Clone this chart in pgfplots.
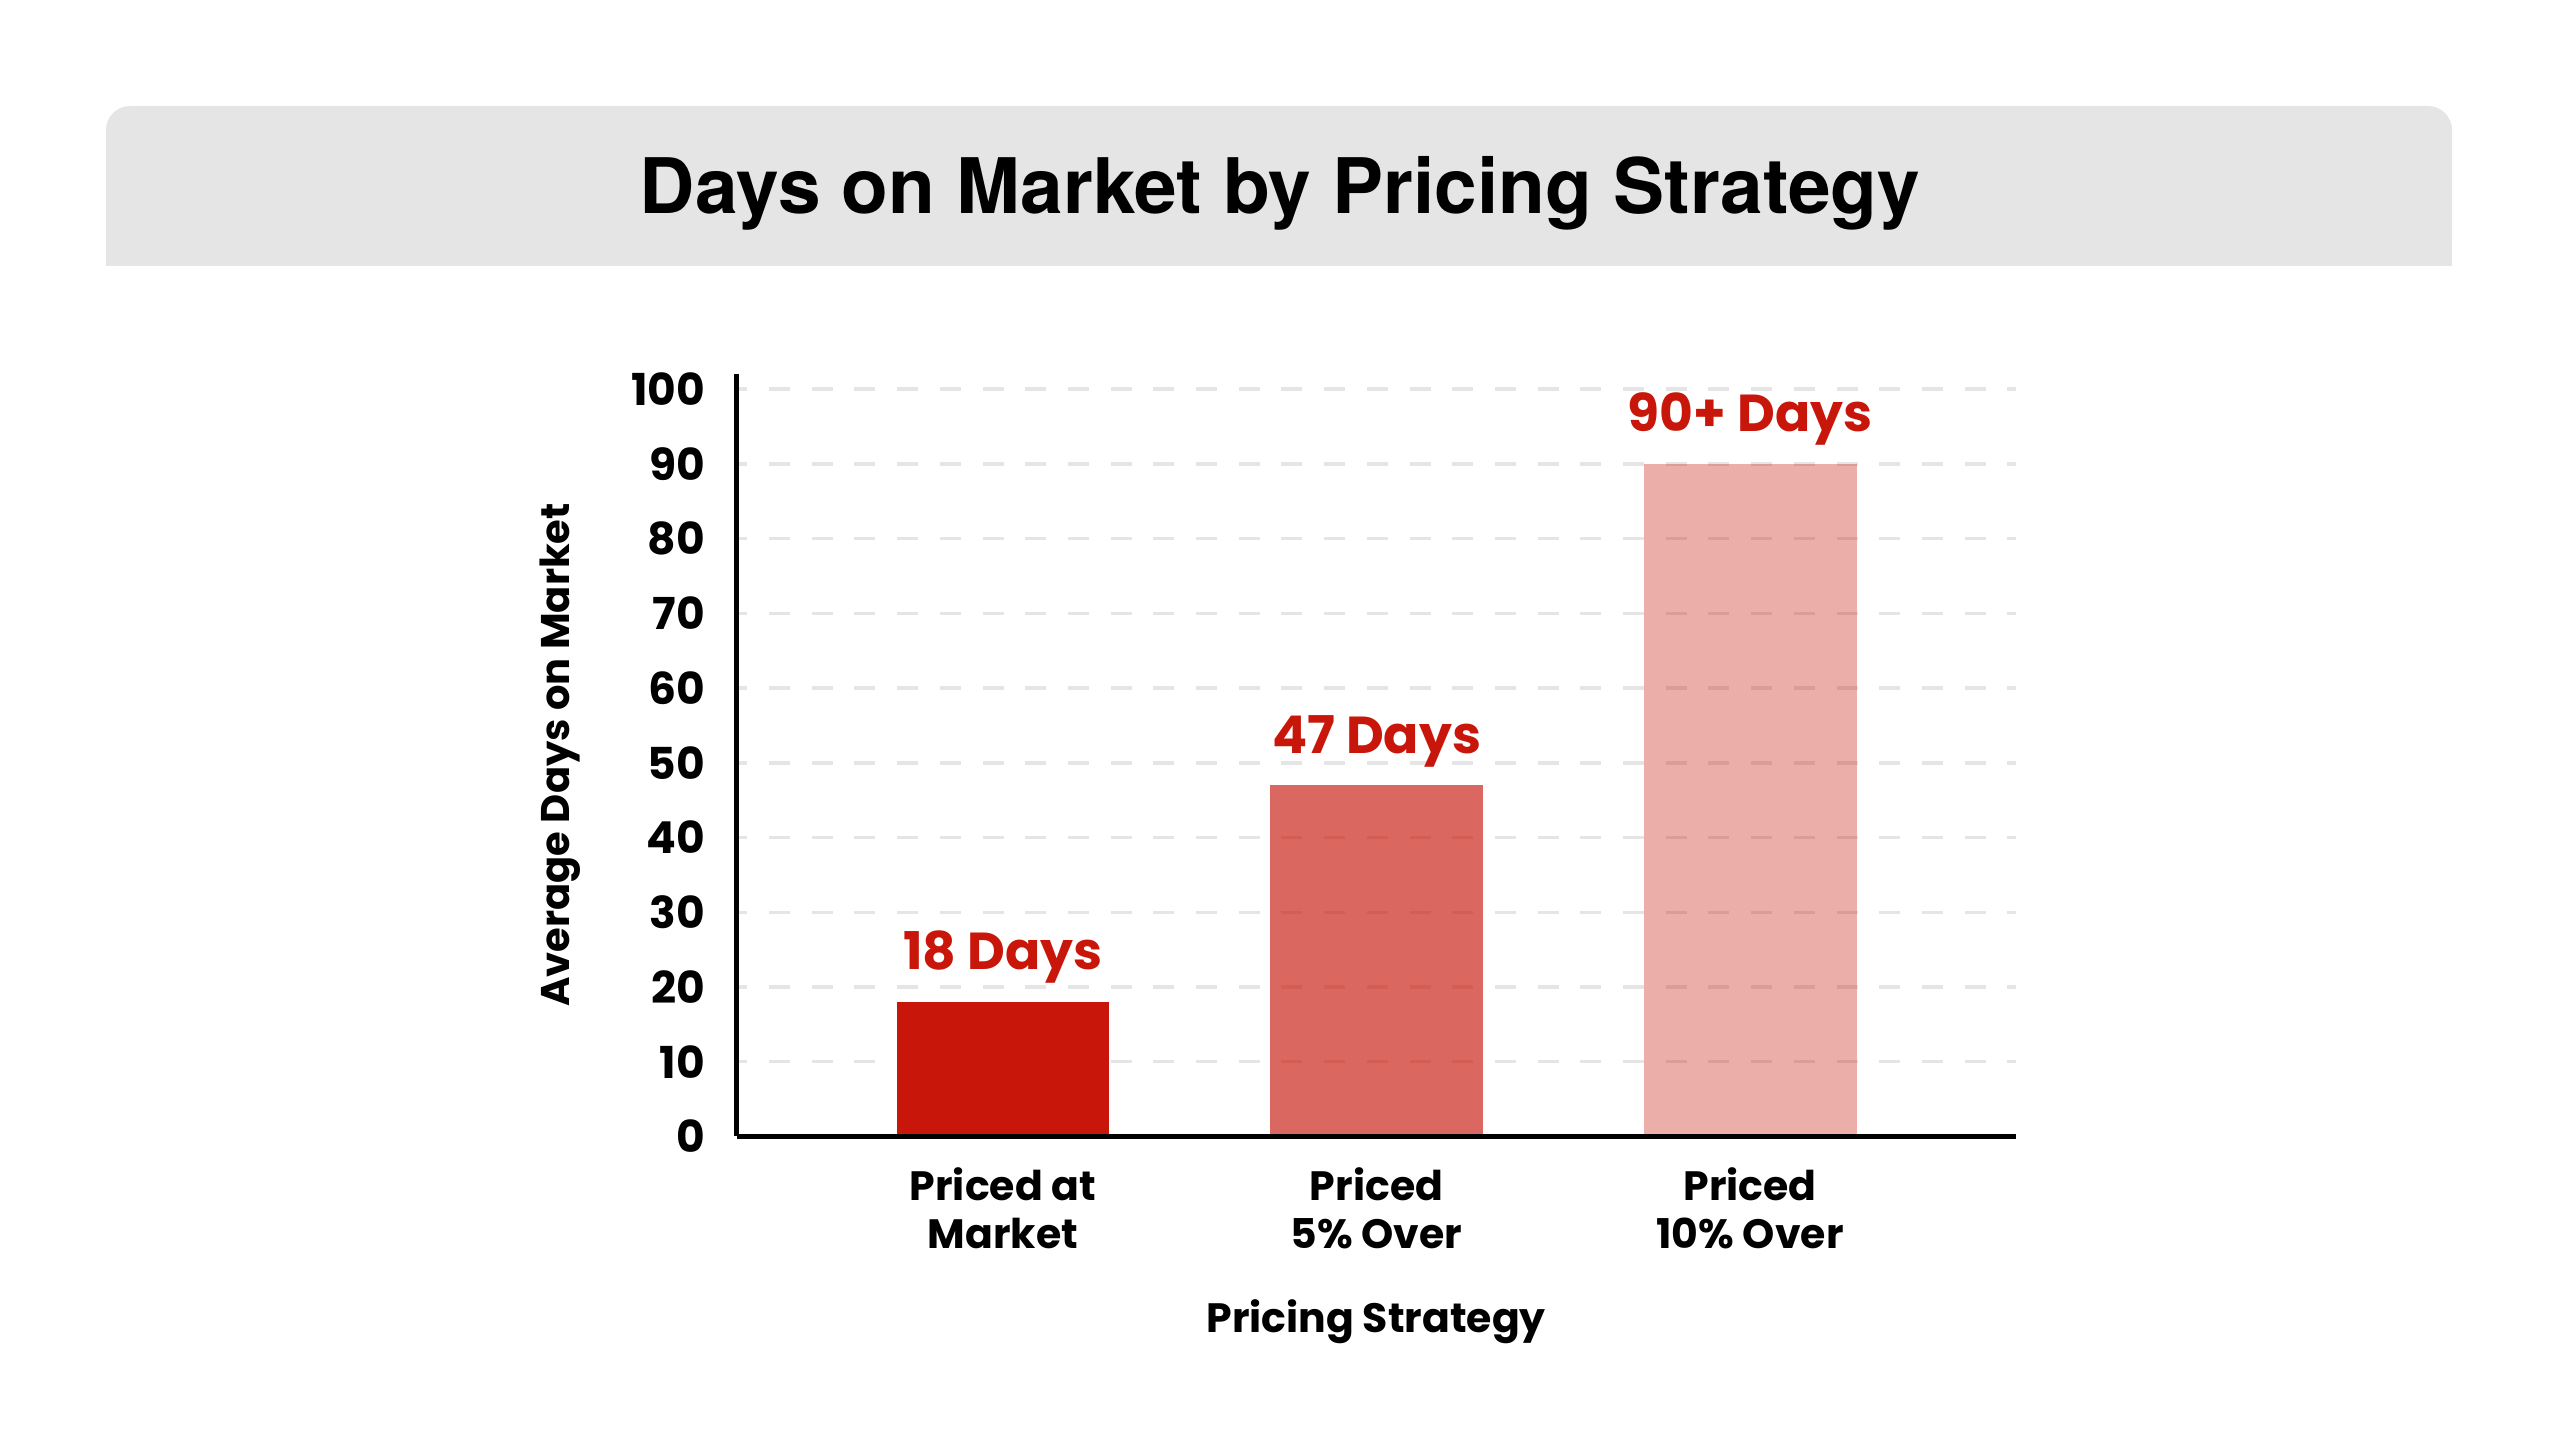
\documentclass[border=0pt]{standalone}
\usepackage{pgfplots}
\pgfplotsset{compat=1.18}
\usepackage{fontspec}
\setmainfont{Poppins}
\newfontfamily\hero{TeX Gyre Heros}
\definecolor{barred}{HTML}{C8170A}
\definecolor{titlebg}{HTML}{E5E5E5}
\pgfplotsset{
 layers/mylayers/.define layer set={axis background,axis grid,pre main,main,axis ticks,axis lines,axis tick labels,axis descriptions,axis foreground}{
   grid style={/pgfplots/on layer=axis grid},
   tick style={/pgfplots/on layer=axis ticks},
   axis line style={/pgfplots/on layer=axis lines},
   label style={/pgfplots/on layer=axis descriptions},
   legend style={/pgfplots/on layer=axis descriptions},
   title style={/pgfplots/on layer=axis descriptions},
   ticklabel style={/pgfplots/on layer=axis tick labels},
   axis background@ style={/pgfplots/on layer=axis background},
   3d box foreground style={/pgfplots/on layer=axis foreground},
 },
}
\newcommand\lab{\bfseries\fontsize{20.5pt}{24pt}\selectfont}
\newcommand\ticklab{\bfseries\fontsize{22pt}{24pt}\selectfont}
\newcommand\barlab{\bfseries\fontsize{26pt}{30pt}\selectfont}

\begin{document}
\begin{tikzpicture}
\fill[titlebg, rounded corners=12pt] (53pt,587pt) rectangle (1226pt,667pt);
\fill[titlebg] (53pt,587pt) rectangle (1226pt,627pt);
\node[anchor=base, font=\hero\bfseries\fontsize{38.3pt}{40pt}\selectfont] at (640pt,613pt) {Days on Market by Pricing Strategy};
\begin{axis}[
 set layers=mylayers,
 at={(368.25pt,151.75pt)}, anchor=south west,
 scale only axis, width=639.75pt, height=381.2pt,
 xmin=-0.7135, xmax=2.712, ymin=0, ymax=102,
 axis x line=bottom, axis y line=left,
 axis line style={-, line width=2.5pt, black},
 ytick={0,10,...,100},
 xtick={0,1,2},
 xticklabels={{Priced at\\Market},{Priced\\5\% Over},{Priced\\10\% Over}},
 major tick length=0pt,
 ymajorgrids,
 major grid style={black, opacity=0.1, line width=1.75pt, dash pattern=on 10.5pt off 10.85pt, dash phase=5.1pt},
 /pgf/number format/assume math mode=true,
 yticklabel style={font=\ticklab, anchor=east, inner sep=0pt, xshift=-15.5pt},
 xticklabel style={font=\lab, align=center, anchor=north, inner sep=0pt, yshift=-15.25pt},
 every node near coord/.append style={anchor=base, yshift=16pt, inner sep=0pt, font=\barlab, text=barred, opacity=1, text opacity=1, fill opacity=1},
]
\addplot[ybar, bar width=0.57, fill=barred, draw=none, nodes near coords={18 Days}] coordinates {(0,18)};
\addplot[ybar, bar width=0.57, fill=barred, fill opacity=0.65, draw=none, nodes near coords={47 Days}] coordinates {(1,47)};
\addplot[ybar, bar width=0.57, fill=barred, fill opacity=0.35, draw=none, nodes near coords={90+ Days}] coordinates {(2,90)};
\end{axis}
\node[anchor=base, font=\lab] at (688.1pt,53.5pt) {Pricing Strategy};
\node[rotate=90, anchor=center, font=\bfseries\fontsize{20pt}{24pt}\selectfont] at (280pt,342.5pt) {Average Days on Market};
\path (0,0) rectangle (1280pt,720pt);
\end{tikzpicture}
\end{document}
